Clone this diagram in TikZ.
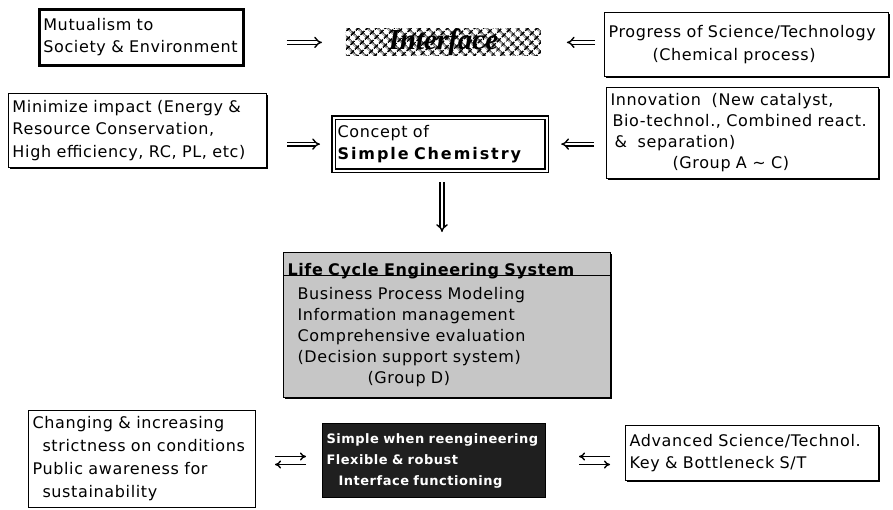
\documentclass[tikz,border=0pt]{standalone}
\usepackage{fontspec}
\setmainfont[LetterSpace=4]{DejaVu Sans}
\newfontfamily\ifacefont{Liberation Serif}
\newfontfamily\chemfont[LetterSpace=12]{DejaVu Sans}
\usetikzlibrary{arrows.meta,patterns.meta,shadows,calc}
\begin{document}
\begin{tikzpicture}[x=1pt, y=-1pt,
  box/.style={draw, line width=1pt, fill=white, anchor=north west, align=left,
    inner sep=4pt, font=\fontsize{16}{22.5}\selectfont},
  heavy/.style={line width=2.6pt},
  shade/.style={drop shadow={shadow xshift=1.8pt, shadow yshift=-1.8pt, opacity=1, fill=black}},
  imp/.style={double, double distance=2.4pt, line width=1.4pt, -{Implies}},
  swap/.style={line width=1.4pt, -{To[length=6pt, width=8pt]}}
]
  \useasboundingbox (0,0) rectangle (893,509);
  \node[box, heavy, text width=196pt, minimum height=56pt] (mut) at (38,8)
    {Mutualism to\\Society \& Environment};
  \node[anchor=north west, minimum width=195pt, minimum height=27pt, inner sep=0pt,
    pattern={Hatch[angle=45, distance=6.5pt, line width=1.8pt]},
    font=\ifacefont\bfseries\itshape\fontsize{29}{29}\selectfont] (iface) at (345,28) {Interface};
  \node[box, shade, text width=276pt, minimum height=64pt] (prog) at (604,12)
    {Progress of Science/Technology\\\hspace*{44pt}(Chemical process)};
  \node[box, shade, text width=250pt, minimum height=74pt] (mini) at (8,93)
    {Minimize impact (Energy \&\\Resource Conservation,\\High efficiency, RC, PL, etc)};
  \node[box, double, double distance=2pt, line width=1.2pt, text width=205pt, minimum height=53pt] (concept) at (333,117)
    {Concept of\\{\chemfont\bfseries Simple Chemistry}};
  \node[box, shade, text width=264pt, minimum height=91pt, font=\fontsize{16}{21}\selectfont] (innov) at (606,87)
    {Innovation\ \ (New catalyst,\\\hspace*{2pt}Bio-technol., Combined react.\\\hspace*{4pt}\&\ \ separation)\\\hspace*{62pt}(Group A \textasciitilde\ C)};
  \node[box, shade, fill=gray!45, text width=319pt, minimum height=145pt, font=\fontsize{16}{21}\selectfont] (lce) at (283,252)
    {{\bfseries Life Cycle Engineering System}\\[3pt]
     \hspace*{10pt}Business Process Modeling\\
     \hspace*{10pt}Information management\\
     \hspace*{10pt}Comprehensive evaluation\\
     \hspace*{10pt}(Decision support system)\\
     \hspace*{80pt}(Group D)};
  \draw[line width=1pt] ($(lce.north west)+(0,23)$) -- ($(lce.north east)+(0,23)$);
  \node[box, text width=219pt, minimum height=97pt, font=\fontsize{16}{23}\selectfont] (cond) at (28,410)
    {Changing \& increasing\\\hspace*{10pt}strictness on conditions\\Public awareness for\\\hspace*{10pt}sustainability};
  \node[box, fill=black!88, text=white, text width=215pt, minimum height=74pt,
    font=\bfseries\fontsize{13}{21}\selectfont] (robust) at (322,423)
    {\mbox{Simple when reengineering}\\Flexible \& robust\\\hspace*{12pt}Interface functioning};
  \node[box, shade, text width=245pt, minimum height=55pt] (adv) at (625,425)
    {Advanced Science/Technol.\\Key \& Bottleneck S/T};
  \draw[imp, shorten <=42pt, shorten >=23pt] (mut.east |- iface.west) -- (iface.west);
  \draw[imp, shorten <=9pt, shorten >=25pt] (prog.west |- iface.east) -- (iface.east);
  \draw[imp, shorten <=20pt, shorten >=13pt] (mini.east |- concept.west) -- (concept.west);
  \draw[imp, shorten <=12pt, shorten >=14pt] (innov.west |- concept.east) -- (concept.east);
  \draw[imp, shorten <=11pt, shorten >=20pt] (concept.south -| 442,0) -- (lce.north -| 442,0);
  \draw[swap, shorten <=19pt, shorten >=16pt] ($(cond.east |- robust.west)+(0,-4)$) -- ($(robust.west)+(0,-4)$);
  \draw[swap, shorten <=16pt, shorten >=19pt] ($(robust.west)+(0,4)$) -- ($(cond.east |- robust.west)+(0,4)$);
  \draw[swap, shorten <=15pt, shorten >=33pt] ($(adv.west |- robust.east)+(0,-4)$) -- ($(robust.east)+(0,-4)$);
  \draw[swap, shorten <=33pt, shorten >=15pt] ($(robust.east)+(0,4)$) -- ($(adv.west |- robust.east)+(0,4)$);
\end{tikzpicture}
\end{document}
